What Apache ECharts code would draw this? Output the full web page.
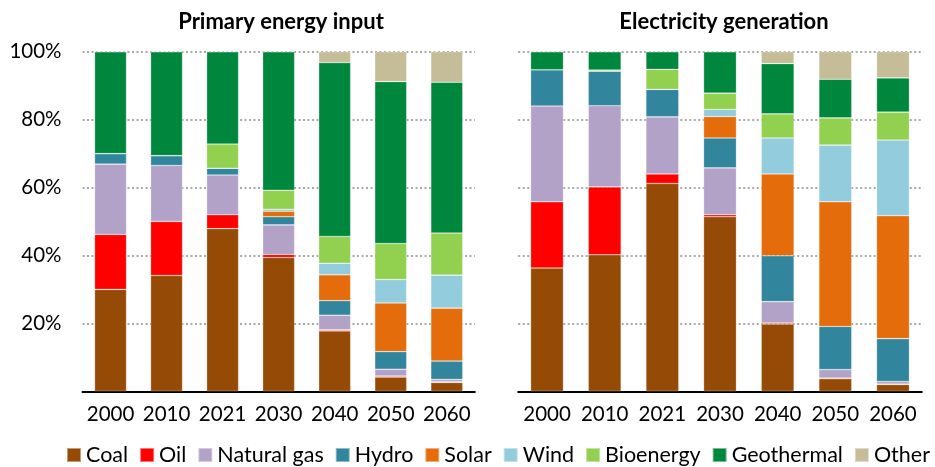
<!DOCTYPE html>
<html>
<head>
<meta charset="utf-8">
<script src="https://cdn.jsdelivr.net/npm/echarts@6/dist/echarts.min.js"></script>
<style>html,body{margin:0;padding:0;background:#fff;}#c{width:935px;height:467px;}</style>
</head>
<body>
<div id="c"></div>
<script>
const years = ['2000','2010','2021','2030','2040','2050','2060'];
const sources = ['Coal','Oil','Natural gas','Hydro','Solar','Wind','Bioenergy','Geothermal','Other'];
const colors = ['#954A05','#FF0000','#B3A2C7','#31859C','#E46C0A','#93CDDD','#92D050','#00873E','#C4BD97'];
const yTicks = [0,20,40,60,80,100];

// Primary energy input (%)
const pCoal  = [30.0, 34.1, 47.9, 39.4, 17.8, 4.2, 2.6];
const pOil   = [16.2, 15.9, 4.1, 0.9, 0.3, 0.3, 0.2];
const pGas   = [20.7, 16.5, 11.7, 8.7, 4.3, 2.0, 0.7];
const pHydro = [3.1, 2.9, 2.0, 2.4, 4.3, 5.2, 5.4];
const pSolar = [0, 0, 0, 1.6, 7.6, 14.3, 15.6];
const pWind  = [0, 0, 0, 0.6, 3.4, 6.9, 9.7];
const pBio   = [0, 0, 7.1, 5.6, 7.9, 10.6, 12.4];
const pGeo   = [30.0, 30.6, 27.2, 40.8, 51.2, 47.7, 44.4];
const pOther = [0, 0, 0, 0, 3.2, 8.8, 9.0];

// Electricity generation (%)
const eCoal  = [36.3, 40.2, 61.2, 51.4, 19.8, 3.7, 2.0];
const eOil   = [19.5, 20.0, 2.8, 0.6, 0.3, 0.2, 0.1];
const eGas   = [28.2, 23.9, 16.8, 13.8, 6.3, 2.5, 0.8];
const eHydro = [10.7, 10.2, 8.1, 8.8, 13.5, 12.7, 12.6];
const eSolar = [0, 0, 0, 6.3, 24.1, 36.7, 36.2];
const eWind  = [0, 0, 0, 2.1, 10.6, 16.7, 22.3];
const eBio   = [0, 0.3, 5.9, 4.8, 7.1, 8.0, 8.2];
const eGeo   = [5.3, 5.4, 5.2, 12.2, 14.8, 11.4, 10.1];
const eOther = [0, 0, 0, 0, 3.5, 8.1, 7.7];

const primary = [pCoal,pOil,pGas,pHydro,pSolar,pWind,pBio,pGeo,pOther];
const electric = [eCoal,eOil,eGas,eHydro,eSolar,eWind,eBio,eGeo,eOther];

const FONT = 'Lato';
const chart = echarts.init(document.getElementById('c'), null, {renderer:'canvas'});

function xAx(i){
  return {type:'category', gridIndex:i, data:years,
    axisLine:{lineStyle:{color:'#000', width:2}}, axisTick:{show:false},
    axisLabel:{interval:0, hideOverlap:false, color:'#000', fontSize:20.5, fontFamily:FONT, margin:13}};
}
function yAx(i, showLabels){
  return {type:'value', gridIndex:i, min:yTicks[0], max:yTicks[yTicks.length-1], interval:20,
    axisLine:{show:false}, axisTick:{show:false},
    axisLabel:{show:showLabels, color:'#000', fontSize:20.5, fontFamily:FONT, margin:21,
      formatter: v => v === 0 ? '' : v + '%'},
    splitLine:{show:true, lineStyle:{color:'#8c8c8c', width:1.5, type:[2,2.5]}}};
}
const series = [];
[primary, electric].forEach((set, gi) => {
  set.forEach((arr, k) => {
    series.push({name:sources[k], type:'bar', stack:'s'+gi, xAxisIndex:gi, yAxisIndex:gi,
      data:arr, barCategoryGap:'43%', itemStyle:{color:colors[k], borderColor:'rgba(255,255,255,0.45)', borderWidth:0.6},
      emphasis:{disabled:true}});
  });
});

chart.setOption({
  animation:false,
  color: colors,
  title:[
    {text:'Primary energy input', left:281, top:11, textAlign:'center', padding:0,
      textStyle:{fontFamily:FONT, fontWeight:'bold', fontSize:22, color:'#000'}},
    {text:'Electricity generation', left:724, top:11, textAlign:'center', padding:0,
      textStyle:{fontFamily:FONT, fontWeight:'bold', fontSize:22, color:'#000'}}
  ],
  legend:{data:sources, left:66, top:444, itemWidth:14, itemHeight:14, itemGap:11, padding:0,
    icon:'rect', textStyle:{fontFamily:FONT, fontSize:21.5, color:'#000'}},
  grid:[
    {left:82.5, width:392.3, top:51.7, height:339.6},
    {left:518.2, width:403.6, top:51.7, height:339.6}
  ],
  xAxis:[xAx(0), xAx(1)],
  yAxis:[yAx(0,true), yAx(1,false)],
  series: series
});
</script>
</body>
</html>
